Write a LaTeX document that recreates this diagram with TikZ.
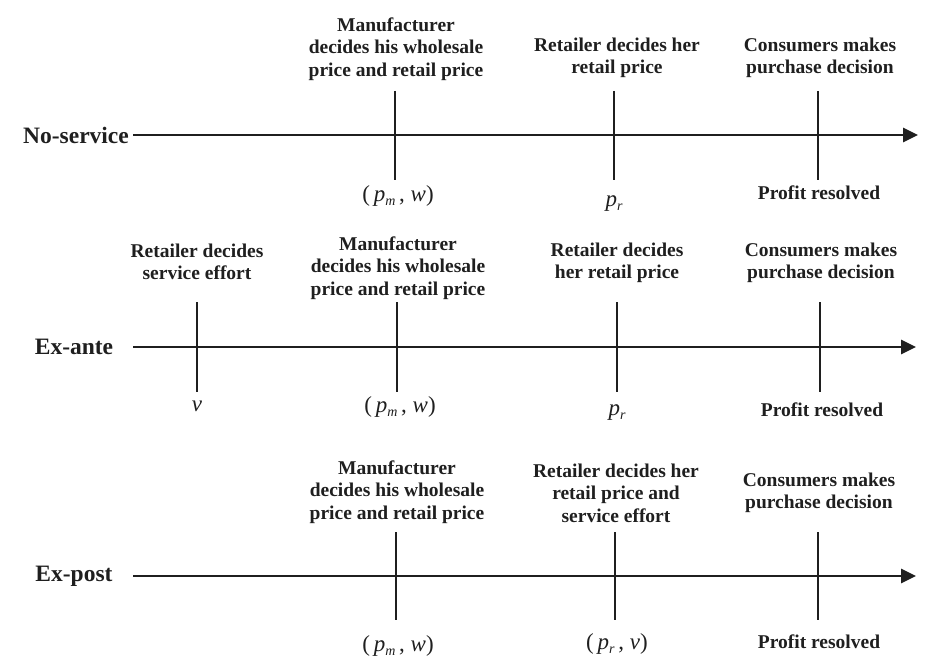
\documentclass[tikz,border=0pt]{standalone}
\usepackage{fontspec}
\setmainfont{Liberation Serif}
\usetikzlibrary{arrows.meta}
\newcommand{\sbx}[1]{\raisebox{-0.35ex}{\fontsize{14}{14}\selectfont\textit{#1}}}
\begin{document}
\begin{tikzpicture}[x=1pt,y=-1pt,
  axisline/.style={line width=2.6pt, draw=black!88, -{Triangle[length=15pt,width=14pt]}},
  tickline/.style={line width=2.4pt, draw=black!88},
  ev/.style={font=\fontsize{19.5}{22.5}\selectfont\bfseries, align=center, inner sep=0pt, text=black!88},
  rowlab/.style={font=\fontsize{23.5}{26}\selectfont\bfseries, inner sep=0pt, text=black!88},
  var/.style={font=\fontsize{23}{26}\selectfont, inner sep=0pt, text=black!88},
]
\useasboundingbox (0,0) rectangle (943,669);

% ---------- Row 1: No-service ----------
\node[rowlab] (l1) at (76,135) {No-service};
\coordinate (a1s) at (133,135);
\coordinate (a1e) at (918,135);
\draw[axisline] (a1s) -- (a1e);
\coordinate (t11a) at (395,91);  \coordinate (t11b) at (395,180);
\coordinate (t12a) at (614,91);  \coordinate (t12b) at (614,180);
\coordinate (t13a) at (818,91);  \coordinate (t13b) at (818,180);
\draw[tickline] (t11a) -- (t11b);
\draw[tickline] (t12a) -- (t12b);
\draw[tickline] (t13a) -- (t13b);
\node[ev] (e11) at (396,49) {Manufacturer\\decides his wholesale\\price and retail price};
\node[ev] (e12) at (617,58) {Retailer decides her\\retail price};
\node[ev] (e13) at (820,58) {Consumers makes\\purchase decision};
\node[var] (v11) at (398,196) {(\,\textit{p}\sbx{m}\,, \textit{w})};
\node[var] (v12) at (614,204) {\textit{p}\sbx{r}};
\node[ev] (v13) at (819,193) {Profit resolved};

% ---------- Row 2: Ex-ante ----------
\node[rowlab] (l2) at (74,347) {Ex-ante};
\coordinate (a2s) at (133,347);
\coordinate (a2e) at (916,347);
\draw[axisline] (a2s) -- (a2e);
\coordinate (t21a) at (197,302);  \coordinate (t21b) at (197,392);
\coordinate (t22a) at (397,302);  \coordinate (t22b) at (397,392);
\coordinate (t23a) at (617,302);  \coordinate (t23b) at (617,392);
\coordinate (t24a) at (820,302);  \coordinate (t24b) at (820,392);
\draw[tickline] (t21a) -- (t21b);
\draw[tickline] (t22a) -- (t22b);
\draw[tickline] (t23a) -- (t23b);
\draw[tickline] (t24a) -- (t24b);
\node[ev] (e21) at (197,262) {Retailer decides\\service effort};
\node[ev] (e22) at (398,268) {Manufacturer\\decides his wholesale\\price and retail price};
\node[ev] (e23) at (617,263) {Retailer decides\\her retail price};
\node[ev] (e24) at (821,263) {Consumers makes\\purchase decision};
\node[var] (v21) at (197,406) {\textit{v}};
\node[var] (v22) at (400,407) {(\,\textit{p}\sbx{m}\,, \textit{w})};
\node[var] (v23) at (617,413) {\textit{p}\sbx{r}};
\node[ev] (v24) at (822,410) {Profit resolved};

% ---------- Row 3: Ex-post ----------
\node[rowlab] (l3) at (74,576) {Ex-post};
\coordinate (a3s) at (133,576);
\coordinate (a3e) at (916,576);
\draw[axisline] (a3s) -- (a3e);
\coordinate (t31a) at (396,532);  \coordinate (t31b) at (396,620);
\coordinate (t32a) at (615,532);  \coordinate (t32b) at (615,620);
\coordinate (t33a) at (818,532);  \coordinate (t33b) at (818,620);
\draw[tickline] (t31a) -- (t31b);
\draw[tickline] (t32a) -- (t32b);
\draw[tickline] (t33a) -- (t33b);
\node[ev] (e31) at (397,492) {Manufacturer\\decides his wholesale\\price and retail price};
\node[ev] (e32) at (616,493) {Retailer decides her\\retail price and\\service effort};
\node[ev] (e33) at (819,493) {Consumers makes\\purchase decision};
\node[var] (v31) at (398,646) {(\,\textit{p}\sbx{m}\,, \textit{w})};
\node[var] (v32) at (617,644) {(\,\textit{p}\sbx{r}\,, \textit{v})};
\node[ev] (v33) at (819,642) {Profit resolved};
\end{tikzpicture}
\end{document}
